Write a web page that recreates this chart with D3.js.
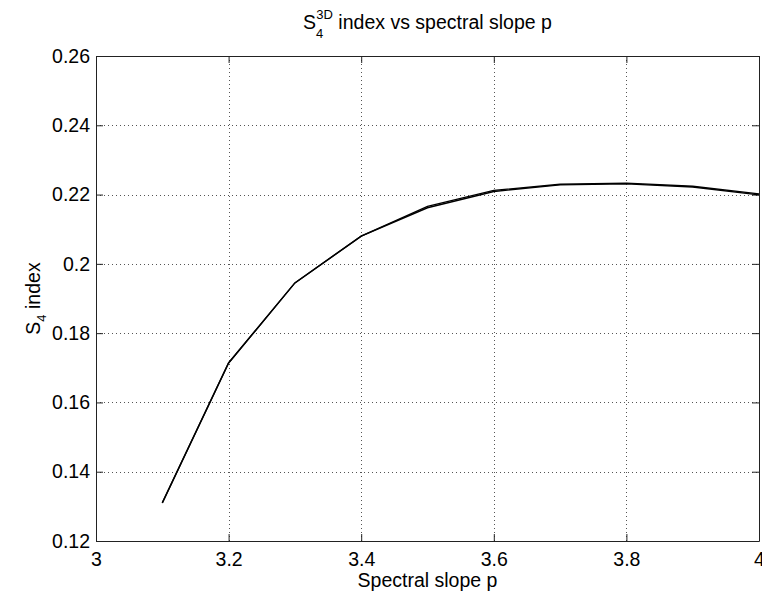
<!DOCTYPE html>
<html>
<head>
<meta charset="utf-8">
<script src="https://cdn.jsdelivr.net/npm/d3@7"></script>
<style>
  body { margin: 0; background: #fff; }
  svg text { font-family: "Liberation Sans", Arial, sans-serif; fill: #000; }
</style>
</head>
<body>
<script>
// spectral slope values
const slopes = [3.1, 3.2, 3.3, 3.4, 3.5, 3.6, 3.7, 3.8, 3.9, 4.0];
// S4 index, main run
const s4Main = [0.131, 0.1714, 0.1945, 0.208, 0.2162, 0.2209, 0.2228, 0.2231, 0.2222, 0.2199];
// second overlapping run (thickens the curve where they differ slightly)
const s4Alt = [0.131, 0.1714, 0.1945, 0.208, 0.2166, 0.2212, 0.2230, 0.2233, 0.2224, 0.2202];

const xTicks = [3, 3.2, 3.4, 3.6, 3.8, 4];
const yTicks = [0.12, 0.14, 0.16, 0.18, 0.2, 0.22, 0.24, 0.26];

const width = 762, height = 595;
const margin = {top: 56, right: 3, bottom: 54, left: 96};
const fontSize = 19.5;

const svg = d3.select('body')
  .append('svg')
  .attr('width', width)
  .attr('height', height);

const x = d3.scaleLinear()
  .domain([3, 4])
  .range([margin.left, width - margin.right]);

const y = d3.scaleLinear()
  .domain([0.12, 0.26])
  .range([height - margin.bottom, margin.top]);

const x0 = x.range()[0], x1 = x.range()[1];
const y0 = y.range()[0], y1 = y.range()[1];

// grid
const grid = svg.append('g')
  .attr('stroke', '#555')
  .attr('stroke-width', 1)
  .attr('stroke-dasharray', '1,3');

grid.selectAll('.gx')
  .data(xTicks.slice(1, -1))
  .enter().append('line')
  .attr('x1', d => Math.round(x(d)) + 0.5)
  .attr('x2', d => Math.round(x(d)) + 0.5)
  .attr('y1', y1)
  .attr('y2', y0);

grid.selectAll('.gy')
  .data(yTicks.slice(1, -1))
  .enter().append('line')
  .attr('y1', d => Math.round(y(d)) + 0.5)
  .attr('y2', d => Math.round(y(d)) + 0.5)
  .attr('x1', x0)
  .attr('x2', x1);

// axes, ticks pointing inwards
const tickLen = 7;
const fmt = d => d3.format('')(d);

svg.append('g')
  .attr('transform', `translate(0,${y0})`)
  .call(d3.axisBottom(x).tickValues(xTicks).tickSizeInner(-tickLen).tickSizeOuter(0).tickPadding(11).tickFormat(fmt))
  .call(g => g.selectAll('text').attr('font-size', fontSize).attr('font-family', '"Liberation Sans", Arial, sans-serif'));

svg.append('g')
  .attr('transform', `translate(0,${y1})`)
  .call(d3.axisTop(x).tickValues(xTicks).tickSizeInner(-tickLen).tickSizeOuter(0).tickFormat(''));

svg.append('g')
  .attr('transform', `translate(${x0},0)`)
  .call(d3.axisLeft(y).tickValues(yTicks).tickSizeInner(-tickLen).tickSizeOuter(0).tickPadding(6).tickFormat(fmt))
  .call(g => g.selectAll('text').attr('font-size', fontSize).attr('font-family', '"Liberation Sans", Arial, sans-serif'));

svg.append('g')
  .attr('transform', `translate(${x1},0)`)
  .call(d3.axisRight(y).tickValues(yTicks).tickSizeInner(-tickLen).tickSizeOuter(0).tickFormat(''));

svg.selectAll('.domain, .tick line').attr('stroke', '#222');

// curves
const line = d3.line()
  .x((d, i) => x(slopes[i]))
  .y(d => y(d));

svg.append('path')
  .datum(s4Alt)
  .attr('d', line)
  .attr('fill', 'none')
  .attr('stroke', '#000')
  .attr('stroke-width', 1.4);

svg.append('path')
  .datum(s4Main)
  .attr('d', line)
  .attr('fill', 'none')
  .attr('stroke', '#000')
  .attr('stroke-width', 1.4);

// title with sub/superscript
const title = svg.append('text')
  .attr('x', (x0 + x1) / 2)
  .attr('y', 29)
  .attr('text-anchor', 'middle')
  .attr('font-size', fontSize);
title.append('tspan').text('S');
title.append('tspan').attr('font-size', 13).attr('dy', 9).text('4');
title.append('tspan').attr('font-size', 13).attr('dx', -7).attr('dy', -19).text('3D');
title.append('tspan').attr('dy', 10).text(' index vs spectral slope p');

// x label
svg.append('text')
  .attr('x', (x0 + x1) / 2)
  .attr('y', 587)
  .attr('text-anchor', 'middle')
  .attr('font-size', fontSize)
  .text('Spectral slope p');

// y label
const ylab = svg.append('text')
  .attr('transform', `translate(40,${(y0 + y1) / 2}) rotate(-90)`)
  .attr('text-anchor', 'middle')
  .attr('font-size', fontSize);
ylab.append('tspan').text('S');
ylab.append('tspan').attr('font-size', 13).attr('dy', 6).text('4');
ylab.append('tspan').attr('dy', -6).text(' index');
</script>
</body>
</html>
